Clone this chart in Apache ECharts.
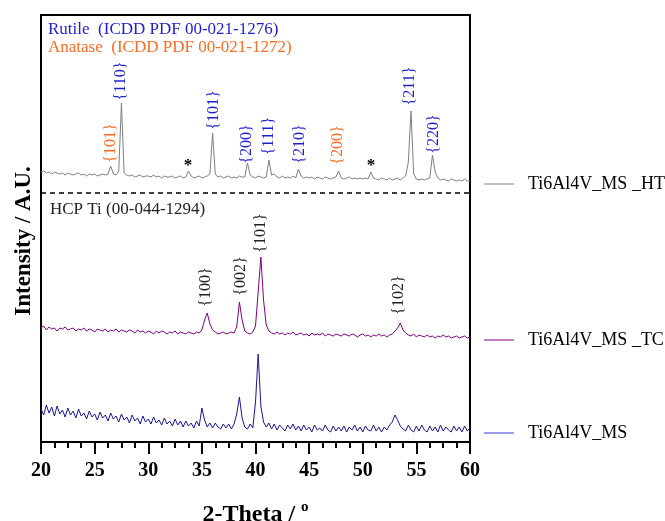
<!DOCTYPE html>
<html>
<head>
<meta charset="utf-8">
<script src="https://cdn.jsdelivr.net/npm/echarts@6/dist/echarts.min.js"></script>
<style>
    html, body { margin: 0; padding: 0; background: #fff; }
    #xrdChart { width: 665px; height: 521px; }
</style>
</head>
<body>
<div id="xrdChart"></div>
<script>
const seriesNames = ['Ti6Al4V_MS _HT', 'Ti6Al4V_MS _TC', 'Ti6Al4V_MS'];

// scan starts at 20 deg, one reading every 0.25 deg up to 60 deg
const scanStart = 20;
const scanStep = 0.25;

// arbitrary units (stacked offsets included)
const htCounts = [
    270, 271, 269, 270, 268, 270, 269, 268,
    269, 267, 269, 268, 267, 268, 269, 267,
    268, 266, 268, 267, 268, 266, 267, 268,
    267, 268, 276, 268, 267, 271, 339, 269,
    267, 266, 267, 265, 266, 267, 265, 266,
    266, 265, 267, 265, 266, 264, 266, 265,
    265, 266, 264, 265, 266, 264, 265, 271,
    266, 264, 265, 266, 264, 265, 266, 268,
    309, 268, 265, 266, 264, 265, 266, 264,
    265, 264, 266, 265, 265, 279, 267, 265,
    264, 266, 265, 264, 265, 282, 267, 268,
    265, 264, 266, 264, 265, 264, 266, 264,
    273, 266, 264, 265, 264, 265, 263, 265,
    264, 263, 265, 264, 263, 264, 265, 271,
    264, 263, 264, 265, 263, 264, 263, 264,
    263, 264, 263, 270, 264, 263, 262, 264,
    263, 262, 264, 262, 263, 264, 262, 264,
    266, 280, 331, 268, 263, 262, 263, 262,
    263, 264, 287, 270, 264, 262, 263, 262,
    261, 263, 262, 261, 262, 261, 263, 261,
    261
];
const tcCounts = [
    114, 116, 112, 115, 113, 114, 111, 114,
    113, 115, 112, 113, 114, 111, 113, 112,
    114, 111, 113, 112, 110, 113, 112, 111,
    113, 110, 112, 111, 113, 110, 112, 111,
    110, 112, 111, 109, 112, 110, 111, 109,
    111, 110, 108, 111, 109, 111, 110, 108,
    110, 109, 111, 108, 110, 109, 108, 110,
    109, 108, 110, 109, 112, 122, 129, 118,
    112, 110, 108, 109, 110, 108, 109, 110,
    109, 115, 140, 122, 111, 109, 108, 110,
    116, 150, 185, 142, 117, 111, 109, 108,
    110, 108, 109, 107, 109, 108, 110, 107,
    108, 109, 107, 108, 106, 109, 107, 108,
    107, 109, 106, 108, 107, 106, 108, 107,
    106, 108, 107, 106, 108, 107, 105, 107,
    108, 106, 107, 105, 107, 106, 108, 106,
    107, 105, 107, 108, 111, 114, 119, 112,
    109, 107, 106, 108, 105, 107, 106, 105,
    107, 105, 106, 104, 106, 105, 107, 105,
    106, 104, 105, 106, 104, 105, 106, 104,
    105
];
const msCounts = [
    33, 27, 37, 29, 35, 26, 36, 28,
    32, 25, 34, 27, 31, 24, 33, 26,
    29, 23, 31, 25, 28, 22, 30, 24,
    27, 21, 29, 23, 26, 20, 28, 22,
    25, 19, 27, 21, 24, 18, 26, 20,
    23, 18, 25, 19, 22, 17, 24, 18,
    21, 16, 23, 17, 21, 15, 21, 16,
    19, 14, 21, 16, 34, 22, 15, 19,
    14, 19, 15, 13, 18, 14, 18, 13,
    18, 28, 45, 24, 15, 13, 18, 14,
    40, 88, 36, 20, 15, 19, 13, 18,
    12, 17, 14, 11, 17, 13, 18, 12,
    16, 11, 17, 12, 15, 10, 17, 12,
    14, 11, 17, 12, 10, 16, 11, 15,
    11, 16, 10, 15, 12, 17, 11, 15,
    10, 16, 12, 11, 17, 11, 15, 10,
    15, 12, 17, 20, 27, 22, 16, 13,
    11, 17, 12, 10, 16, 11, 17, 12,
    10, 16, 11, 15, 10, 17, 11, 15,
    12, 10, 16, 11, 15, 10, 16, 11,
    14
];

// peak labels: [text, 2-theta, height of label centre]
const rutilePeaks = [
    ['{110}', 27.45, 361], ['{101}', 36.13, 332], ['{200}', 39.21, 298],
    ['{111}', 41.26, 306], ['{210}', 44.15, 298], ['{211}', 54.41, 356],
    ['{220}', 56.64, 308]
];
const anatasePeaks = [['{101}', 26.53, 299], ['{200}', 47.69, 297]];
const unknownPeaks = [['*', 33.71, 276], ['*', 50.77, 276]];
const hcpPeaks = [
    ['{100}', 35.38, 155], ['{002}', 38.65, 166], ['{101}', 40.51, 209],
    ['{102}', 53.38, 147]
];
const phaseBorder = 249;

const SERIF = 'Liberation Serif';
const RUTILE_COLOR = '#1e1ed2';
const ANATASE_COLOR = '#ff6b24';
const LINE_COLORS = ['#808080', '#800080', '#161699'];

window.onload = () => {
    new XrdChartVm().main();
};

class XrdChartVm {
    chart;

    main() {
        this.chart = echarts.init(document.getElementById('xrdChart'));
        this.chart.setOption(this.buildOption());
    }

    toPoints(counts) {
        return counts.map((v, i) => [scanStart + i * scanStep, v]);
    }

    peakMarks(peaks, color, size, bold) {
        return peaks.map(p => ({
            coord: [p[1], p[2]],
            label: {
                show: true,
                position: 'inside',
                rotate: p[0] === '*' ? 0 : 90,
                formatter: p[0],
                color: color,
                fontFamily: SERIF,
                fontSize: size,
                fontWeight: bold ? 'bold' : 'normal'
            }
        }));
    }

    buildLegend(name, top, color) {
        return {
            data: [name],
            left: 479,
            top: top,
            icon: 'rect',
            itemWidth: 30,
            itemHeight: 1,
            selectedMode: false,
            itemStyle: { color: color, borderWidth: 0 },
            textStyle: {
                fontFamily: SERIF,
                fontSize: 18,
                color: '#000',
                padding: [0, 0, 0, 9]
            }
        };
    }

    buildOption() {
        let markBase = {
            symbol: 'rect',
            symbolSize: 1,
            itemStyle: { color: 'rgba(0,0,0,0)' },
            silent: true
        };

        let series = [
            {
                name: seriesNames[0],
                type: 'line',
                data: this.toPoints(htCounts),
                symbol: 'none',
                lineStyle: { width: 1, color: LINE_COLORS[0] },
                itemStyle: { color: LINE_COLORS[0] },
                markPoint: Object.assign({}, markBase, {
                    data: [].concat(
                        this.peakMarks(rutilePeaks, RUTILE_COLOR, 16, false),
                        this.peakMarks(anatasePeaks, ANATASE_COLOR, 16, false),
                        this.peakMarks(unknownPeaks, '#000', 17, true)
                    )
                }),
                markLine: {
                    silent: true,
                    symbol: 'none',
                    label: { show: false },
                    lineStyle: { color: '#000', width: 1.5, type: [5, 4] },
                    data: [{ yAxis: phaseBorder }]
                }
            },
            {
                name: seriesNames[1],
                type: 'line',
                data: this.toPoints(tcCounts),
                symbol: 'none',
                lineStyle: { width: 1, color: LINE_COLORS[1] },
                itemStyle: { color: LINE_COLORS[1] },
                markPoint: Object.assign({}, markBase, {
                    data: this.peakMarks(hcpPeaks, '#222', 16, false)
                })
            },
            {
                name: seriesNames[2],
                type: 'line',
                data: this.toPoints(msCounts),
                symbol: 'none',
                lineStyle: { width: 1, color: LINE_COLORS[2] },
                itemStyle: { color: LINE_COLORS[2] }
            }
        ];

        return {
            animation: false,
            backgroundColor: '#fff',
            grid: {
                left: 41,
                right: 195,
                top: 15,
                bottom: 79,
                outerBoundsMode: 'none',
                show: true,
                borderColor: '#000',
                borderWidth: 2
            },
            legend: [
                this.buildLegend(seriesNames[0], 170, '#808080'),
                this.buildLegend(seriesNames[1], 326, '#800080'),
                this.buildLegend(seriesNames[2], 419, '#3a3acc')
            ],
            xAxis: {
                type: 'value',
                min: 20,
                max: 60,
                interval: 5,
                name: '{t|2-Theta / }{s|o}',
                nameLocation: 'middle',
                nameGap: 58,
                nameTextStyle: {
                    rich: {
                        t: { fontFamily: SERIF, fontSize: 24, fontWeight: 'bold', color: '#000' },
                        s: { fontFamily: SERIF, fontSize: 15, fontWeight: 'bold', color: '#000', padding: [0, 0, 14, 0] }
                    }
                },
                axisLine: { lineStyle: { color: '#000', width: 2 } },
                axisTick: { inside: false, length: 12, lineStyle: { width: 2, color: '#000' } },
                minorTick: { show: true, splitNumber: 4, length: 6, lineStyle: { width: 2, color: '#000' } },
                splitLine: { show: false },
                axisLabel: {
                    margin: 19,
                    fontFamily: SERIF,
                    fontSize: 20,
                    fontWeight: 'bold',
                    color: '#000'
                }
            },
            yAxis: {
                type: 'value',
                min: 0,
                max: 427,
                axisLine: { show: true, lineStyle: { color: '#000', width: 2 } },
                axisTick: { show: false },
                axisLabel: { show: false },
                splitLine: { show: false }
            },
            graphic: [
                {
                    type: 'text', left: 48, top: 21,
                    style: { text: 'Rutile  (ICDD PDF 00-021-1276)', fill: RUTILE_COLOR, font: '17px "Liberation Serif"' }
                },
                {
                    type: 'text', left: 48, top: 39,
                    style: { text: 'Anatase  (ICDD PDF 00-021-1272)', fill: ANATASE_COLOR, font: '17px "Liberation Serif"' }
                },
                {
                    type: 'text', left: 50, top: 201,
                    style: { text: 'HCP Ti (00-044-1294)', fill: '#222', font: '17px "Liberation Serif"' }
                },
                {
                    type: 'text', x: 24, y: 241, rotation: Math.PI / 2,
                    style: {
                        text: 'Intensity / A.U.', fill: '#000', font: 'bold 23px "Liberation Serif"',
                        align: 'center', verticalAlign: 'middle'
                    }
                }
            ],
            series: series
        };
    }
}
</script>
</body>
</html>
